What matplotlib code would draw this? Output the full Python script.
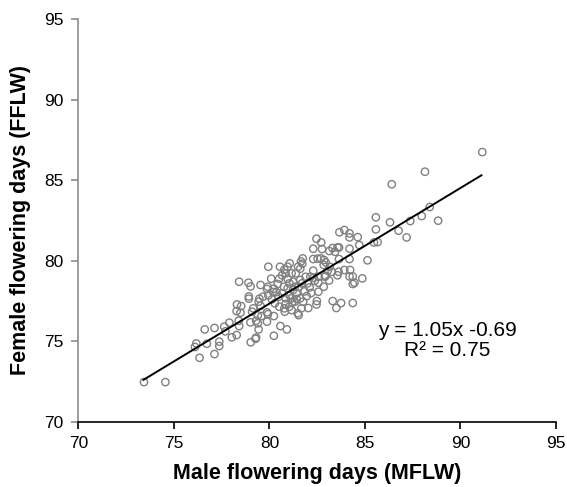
import matplotlib
matplotlib.use("Agg")
import matplotlib.pyplot as plt

plt.rcParams['font.family'] = ['Liberation Sans', 'DejaVu Sans']

mflw = [73.43, 74.55, 91.14, 88.14, 86.40, 85.57, 86.31, 88.39, 87.97, 88.83,
        87.37, 86.76, 87.18, 85.57, 85.66, 85.47, 85.13, 84.86, 84.62, 84.70,
        84.19, 84.19, 83.92, 83.66, 83.64, 84.19, 84.19, 84.36, 84.45, 84.36,
        83.75, 83.31, 83.50, 84.22, 83.92, 83.62, 83.56, 84.19, 84.36, 83.16,
        83.12, 83.64, 83.30, 83.13, 83.43, 83.56, 82.71, 82.46, 82.29, 82.75,
        82.52, 82.69, 82.86, 82.94, 82.84, 82.29, 81.74, 81.65, 81.72, 81.50,
        81.61, 81.38, 81.06, 80.95, 80.55, 79.94, 80.78, 80.85, 81.16, 80.95,
        80.66, 80.51, 80.09, 80.43, 79.91, 80.23, 79.87, 79.53, 80.36, 80.19,
        79.94, 80.13, 79.66, 79.47, 79.43, 79.53, 79.15, 79.87, 79.92, 79.58,
        79.39, 79.30, 79.09, 78.92, 78.92, 78.90, 79.01, 78.41, 78.30, 78.52,
        78.28, 78.48, 78.39, 78.41, 77.90, 77.69, 78.28, 78.03, 77.63, 77.12,
        76.61, 77.37, 77.37, 76.72, 76.17, 76.10, 76.34, 77.12, 79.00, 79.02,
        79.27, 79.30, 79.43, 79.39, 80.23, 80.57, 80.91, 80.23, 79.87, 81.19,
        81.16, 81.42, 81.48, 81.53, 81.67, 82.03, 81.95, 81.84, 82.10, 82.18,
        82.48, 82.46, 82.56, 82.56, 82.84, 82.94, 82.56, 82.29, 82.31, 82.14,
        81.89, 81.99, 82.37, 83.05, 82.90, 83.26, 80.76, 80.95, 81.23, 81.42,
        81.04, 80.85, 81.14, 81.33, 81.52, 81.70, 80.66, 80.47, 81.33, 80.85,
        81.04, 80.78, 80.80, 81.61, 81.76, 80.28, 80.51, 81.23, 81.04, 81.61]

fflw = [72.46, 72.46, 86.74, 85.52, 84.74, 82.69, 82.38, 83.33, 82.77, 82.48,
        82.46, 81.86, 81.44, 81.94, 81.15, 81.13, 80.02, 78.90, 81.46, 80.97,
        81.69, 81.44, 81.90, 81.76, 80.82, 80.74, 80.10, 78.55, 78.63, 77.37,
        77.37, 77.49, 77.06, 79.42, 79.42, 79.31, 79.09, 79.02, 79.02, 79.62,
        78.77, 80.10, 80.78, 80.60, 80.55, 80.82, 81.13, 81.36, 80.74, 80.72,
        80.12, 80.14, 80.04, 79.89, 79.73, 80.10, 80.14, 79.95, 79.81, 79.62,
        79.50, 79.21, 79.83, 79.62, 79.62, 79.62, 79.44, 79.21, 79.21, 78.88,
        79.09, 78.88, 78.88, 78.55, 78.38, 78.26, 78.24, 78.49, 78.05, 78.05,
        77.84, 77.60, 77.76, 77.64, 77.45, 77.20, 77.04, 76.79, 76.68, 76.56,
        76.60, 76.27, 76.83, 77.64, 77.78, 78.63, 78.40, 78.69, 77.28, 77.18,
        76.87, 76.77, 76.27, 75.94, 76.15, 75.61, 75.38, 75.24, 75.90, 75.82,
        75.73, 74.97, 74.70, 74.84, 74.86, 74.64, 73.97, 74.20, 76.17, 74.93,
        75.15, 75.22, 75.73, 76.11, 75.34, 75.94, 75.73, 76.56, 76.21, 77.41,
        76.93, 77.62, 76.73, 76.62, 77.04, 77.06, 77.80, 78.09, 78.34, 77.99,
        77.49, 77.28, 78.07, 78.63, 78.38, 79.06, 79.00, 79.38, 78.94, 79.00,
        79.00, 78.59, 78.75, 79.38, 79.00, 79.31, 78.38, 78.28, 78.17, 77.97,
        77.86, 77.66, 77.66, 78.38, 78.38, 78.59, 77.97, 77.76, 77.45, 77.31,
        77.14, 77.04, 76.83, 77.66, 77.45, 77.35, 77.14, 78.69, 78.59, 78.80]

fit_x = [73.4, 91.1]
fit_y = [72.6, 85.3]

xticks = [70, 75, 80, 85, 90, 95]
yticks = [70, 75, 80, 85, 90, 95]

fig = plt.figure(figsize=(5.67, 4.87), dpi=100)
ax = fig.add_axes([0.1384, 0.134, 0.8422, 0.827])

ax.scatter(mflw, fflw, s=28, facecolors='none', edgecolors='#808080',
           linewidths=1.0, zorder=2)
ax.plot(fit_x, fit_y, color='black', linewidth=1.4, zorder=3)

ax.set_xlim(70, 95)
ax.set_ylim(70, 95)
ax.set_xticks(xticks)
ax.set_yticks(yticks)

for s in ['top', 'right']:
    ax.spines[s].set_visible(False)
ax.spines['left'].set_color('#8c8c8c')
ax.spines['left'].set_linewidth(1.2)
ax.spines['bottom'].set_color('black')
ax.spines['bottom'].set_linewidth(1.2)

ax.tick_params(axis='y', colors='#8c8c8c', labelcolor='black', length=5,
               width=1.2, labelsize=12.5, pad=6)
ax.tick_params(axis='x', colors='black', length=5, width=1.2, labelsize=12.5,
               pad=5)

ax.set_xlabel('Male flowering days (MFLW)', fontsize=15.5, fontweight='bold')
ax.set_ylabel('Female flowering days (FFLW)', fontsize=15.5, fontweight='bold')
ax.xaxis.set_label_coords(0.5, -0.1026)
ax.yaxis.set_label_coords(-0.0995, 0.5)

ax.text(89.3, 75.05, 'y = 1.05x -0.69\nR² = 0.75', ha='center', va='center',
        fontsize=15, linespacing=1.1)

fig.savefig('out.png', dpi=100)
